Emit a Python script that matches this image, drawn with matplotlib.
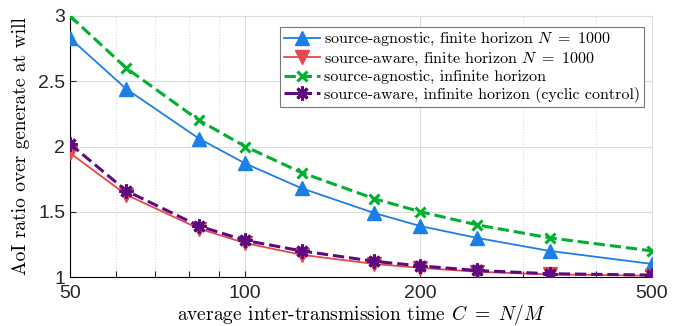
import numpy as np
import matplotlib
matplotlib.use("Agg")
import matplotlib.pyplot as plt
from matplotlib.ticker import FixedLocator, FixedFormatter, NullFormatter

# inter-transmission time C = N/M, N = 1000, M = 20,16,12,10,8,6,5,4,3,2
C = [50, 62.5, 83.33, 100, 125, 166.67, 200, 250, 333.33, 500]
agn_finite = [2.83, 2.44, 2.06, 1.87, 1.68, 1.49, 1.39, 1.30, 1.20, 1.10]
awr_finite = [1.95, 1.63, 1.37, 1.26, 1.17, 1.10, 1.07, 1.04, 1.02, 1.01]
agn_inf = [3.00, 2.60, 2.20, 2.00, 1.80, 1.60, 1.50, 1.40, 1.30, 1.20]
awr_inf = [2.02, 1.66, 1.39, 1.28, 1.20, 1.12, 1.085, 1.05, 1.025, 1.015]

labels = [r"source-agnostic, finite horizon $N\ =\ 1000$",
          r"source-aware, finite horizon $N\ =\ 1000$",
          "source-agnostic, infinite horizon",
          "source-aware, infinite horizon (cyclic control)"]
xticks = [50, 100, 200, 500]
yticks = [1, 1.5, 2, 2.5, 3]

plt.rcParams["mathtext.fontset"] = "cm"
serif = "cmr10"

fig = plt.figure(figsize=(6.81, 3.26), dpi=100)
ax = fig.add_axes([70 / 681, 49 / 326, 582 / 681, 261 / 326])

ax.plot(C, agn_finite, "-", color="#1a7fe6", lw=1.3, marker="^", ms=10, label=labels[0], zorder=3)
ax.plot(C, awr_finite, "-", color="#e8474c", lw=1.3, marker="v", ms=10, label=labels[1], zorder=3)
ax.plot(C, agn_inf, "--", color="#00b02e", lw=2.2, marker="x", ms=7, mew=2.2, label=labels[2], zorder=4)
ax.plot(C, awr_inf, "--", color="#5e0a82", lw=2.2, marker=(8, 2, 0), ms=10, mew=2.2, label=labels[3], zorder=4)

ax.set_xscale("log")
ax.set_xlim(50, 500)
ax.set_ylim(1, 3)
ax.xaxis.set_major_locator(FixedLocator(xticks))
ax.xaxis.set_major_formatter(FixedFormatter([str(t) for t in xticks]))
ax.xaxis.set_minor_locator(FixedLocator([60, 70, 80, 90, 300, 400]))
ax.xaxis.set_minor_formatter(NullFormatter())
ax.set_yticks(yticks)
ax.set_yticklabels(["1", "1.5", "2", "2.5", "3"])

ax.grid(True, which="major", color="#dddddd", lw=0.8)
ax.grid(True, which="minor", color="#dddddd", lw=0.8, ls=":")
ax.set_axisbelow(True)
for s in ["top", "right"]:
    ax.spines[s].set_color("#dddddd")
ax.tick_params(which="both", direction="in", length=4, labelsize=14, width=0.8, colors="#262626")
ax.tick_params(axis="x", pad=6)
ax.tick_params(which="both", top=False, right=False)
for t in ax.get_xticklabels() + ax.get_yticklabels():
    t.set_fontname("Liberation Sans")

ax.set_xlabel(r"average inter-transmission time $C\ =\ N/M$", fontname=serif, fontsize=14, labelpad=0)
ax.set_ylabel("AoI ratio over generate at will", fontname=serif, fontsize=14, labelpad=6)

leg = ax.legend(loc="upper right", bbox_to_anchor=(0.995, 0.975), prop={"family": serif, "size": 11.5},
                fancybox=False, edgecolor="#777777", framealpha=1, handlelength=2.2,
                handletextpad=0.3, labelspacing=0.15, borderpad=0.25, borderaxespad=0.3)
leg.get_frame().set_linewidth(0.8)

fig.savefig("out.png", dpi=100)
